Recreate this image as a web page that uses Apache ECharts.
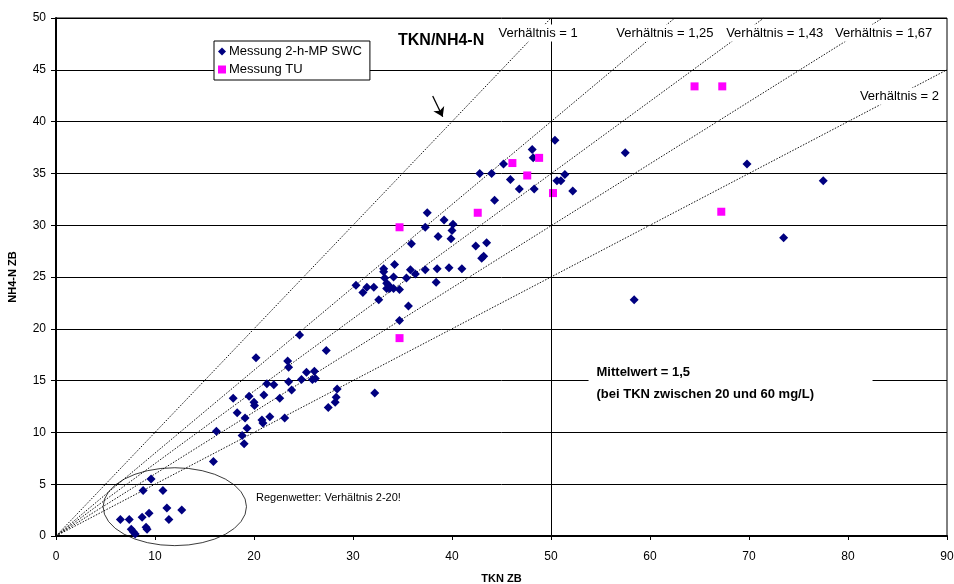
<!DOCTYPE html>
<html>
<head>
<meta charset="utf-8">
<script src="https://cdn.jsdelivr.net/npm/echarts@6/dist/echarts.min.js"></script>
<style>
html,body{margin:0;padding:0;background:#fff;}
#chart{width:954px;height:584px;}
</style>
</head>
<body>
<div id="chart"></div>
<script>
// ---- data ----
const seriesNames = ['Messung 2-h-MP SWC', 'Messung TU'];
const swcPoints = [
  [6.5,1.6],[7.4,1.6],[7.6,0.65],[7.8,0.4],[8.0,0.2],[8.7,1.8],[8.8,4.4],[9.1,0.85],[9.2,0.65],
  [9.4,2.2],[9.6,5.5],[10.8,4.4],[11.2,2.7],[11.4,1.6],[12.7,2.5],
  [15.9,7.2],[16.2,10.1],[17.9,13.3],[18.3,11.9],[18.8,9.7],[19.0,8.9],[19.1,11.4],[19.3,10.4],
  [19.5,13.5],[20.0,12.9],[20.05,12.6],[20.2,17.2],[20.8,11.2],[20.9,10.9],[21.0,13.6],[21.3,14.7],
  [21.6,11.5],[22.0,14.6],[22.6,13.3],[23.1,11.4],[23.4,16.9],[23.5,16.3],[23.5,14.9],[23.8,14.1],
  [24.6,19.4],[24.8,15.1],[25.3,15.8],[25.9,15.1],[26.1,15.9],[26.2,15.2],[27.3,17.9],[27.5,12.4],
  [28.2,12.9],[28.3,13.4],[28.4,14.2],[32.2,13.8],
  [30.3,24.2],[31.0,23.5],[31.4,24.0],[32.1,24.0],[32.6,22.8],[33.1,25.8],[33.1,25.5],[33.2,24.9],
  [33.4,24.4],[33.6,24.2],[33.4,23.9],[33.7,23.9],[34.1,23.9],[34.7,23.8],[34.1,25.0],[34.2,26.2],
  [34.7,20.8],[35.4,24.9],[35.6,22.2],[35.8,25.7],[35.9,28.2],[36.3,25.3],[37.3,25.7],[37.3,29.8],
  [37.5,31.2],[38.4,24.5],[38.5,25.8],[38.6,28.9],[39.2,30.5],[39.7,25.9],[39.9,28.7],[40.0,29.5],
  [40.1,30.1],[41.0,25.8],[42.4,28.0],[42.8,35.0],[43.0,26.8],[43.2,27.0],[43.5,28.3],[44.0,35.0],
  [44.3,32.4],[45.2,35.9],[45.9,34.4],[46.8,33.5],[48.1,37.3],[48.2,36.5],[48.3,33.5],[50.4,38.2],
  [50.6,34.3],[51.0,34.3],[51.4,34.9],[52.2,33.3],[57.5,37.0],[58.4,22.8],[69.8,35.9],[73.5,28.8],
  [77.5,34.3]
];
const tuPoints = [
  [34.7,29.8],[34.7,19.1],[42.6,31.2],[46.1,36.0],[47.6,34.8],[48.8,36.5],[50.2,33.1],
  [64.5,43.4],[67.3,43.4],[67.2,31.3]
];
// ratio reference lines TKN/NH4-N = r  (segments from origin to end point)
const ratioNames = ['Verhältnis = 1','Verhältnis = 1,25','Verhältnis = 1,43','Verhältnis = 1,67','Verhältnis = 2'];
const ratioLines = [
  [[0,0],[50,50]],
  [[0,0],[62.5,50]],
  [[0,0],[71.5,50]],
  [[0,0],[83.5,50]],
  [[0,0],[90,45]]
];
const xTicks = [0,10,20,30,40,50,60,70,80,90];
const yTicks = [0,5,10,15,20,25,30,35,40,45,50];
const titleText = 'TKN/NH4-N';
const xName = 'TKN ZB';
const yName = 'NH4-N ZB';
const noteLines = ['Mittelwert = 1,5', '(bei TKN zwischen 20 und 60 mg/L)'];
const rainText = 'Regenwetter: Verhältnis 2-20!';
// ellipse annotation (data units): centre, radii
const ellipseCenter = [12.0, 2.83];
const ellipseRadii = [7.24, 3.76];
const arrowFrom = [38.05, 42.47];
const arrowTo = [39.06, 40.47];

const FONT = '"Liberation Sans", Arial, sans-serif';
const chart = echarts.init(document.getElementById('chart'));

const series = [];
ratioLines.forEach((seg, i) => {
  series.push({
    name: ratioNames[i], type: 'line', data: seg, symbol: 'none', silent: true,
    lineStyle: { color: '#111', width: 1, type: [1.5, 1.5] }, z: 1, animation: false
  });
});
series.push({
  name: seriesNames[0], type: 'scatter', data: swcPoints, symbol: 'diamond', symbolSize: 9,
  itemStyle: { color: '#000080', opacity: 1 }, z: 3, animation: false,
  markLine: {
    silent: true, symbol: 'none', animation: false,
    lineStyle: { color: '#000', width: 1, type: 'solid' }, label: { show: false },
    data: [{ xAxis: 50 }]
  }
});
series.push({
  name: seriesNames[1], type: 'scatter', data: tuPoints, symbol: 'rect', symbolSize: 8,
  itemStyle: { color: '#FF00FF', opacity: 1 }, z: 4, animation: false,
  markLine: {
    silent: true, animation: false, label: { show: false },
    lineStyle: { color: '#000', width: 1.3, type: 'solid' },
    symbol: ['none', 'arrow'], symbolSize: 9,
    data: [[{ coord: arrowFrom }, { coord: arrowTo }]]
  }
});

const option = {
  animation: false,
  backgroundColor: '#fff',
  textStyle: { fontFamily: FONT },
  grid: { left: 56, right: 7, top: 18, bottom: 48, show: true, borderColor: '#000', borderWidth: 1,
          backgroundColor: 'transparent', containLabel: false, outerBoundsMode: 'none' },
  legend: {
    data: [{ name: seriesNames[0], icon: 'diamond' }, { name: seriesNames[1], icon: 'rect' }],
    orient: 'vertical', left: 214, top: 41, padding: [4, 8, 4, 4], itemGap: 5,
    itemWidth: 8, itemHeight: 8, backgroundColor: '#fff', borderColor: '#000', borderWidth: 1,
    textStyle: { fontFamily: FONT, fontSize: 13, color: '#000', padding: [0,0,0,-2] },
    selectedMode: false
  },
  xAxis: {
    type: 'value', min: 0, max: 90, interval: 10,
    name: xName, nameLocation: 'middle', nameGap: 37,
    nameTextStyle: { fontFamily: FONT, fontSize: 11, fontWeight: 'bold', color: '#000' },
    axisLine: { show: true, onZero: false, lineStyle: { color: '#000', width: 2 } },
    axisTick: { show: true, length: 4, lineStyle: { color: '#000', width: 1 } },
    axisLabel: { fontFamily: FONT, fontSize: 12, color: '#000', margin: 15 },
    splitLine: { show: false }
  },
  yAxis: {
    type: 'value', min: 0, max: 50, interval: 5,
    name: yName, nameLocation: 'middle', nameGap: 38, nameRotate: 90,
    nameTextStyle: { fontFamily: FONT, fontSize: 11, fontWeight: 'bold', color: '#000' },
    axisLine: { show: true, onZero: false, lineStyle: { color: '#000', width: 2 } },
    axisTick: { show: true, length: 5, lineStyle: { color: '#000', width: 1 } },
    axisLabel: { fontFamily: FONT, fontSize: 12, color: '#000', margin: 10 },
    splitLine: { show: true, lineStyle: { color: '#000', width: 1 } }
  },
  series: series
};
chart.setOption(option);

function px(pt) { return chart.convertToPixel({ gridIndex: 0 }, pt); }
function txt(text, x, y, font, align, bg, pad) {
  return {
    type: 'text', z: 100, zlevel: 0,
    style: {
      text: text, x: x, y: y, font: font, fill: '#000',
      align: align || 'center', textAlign: align || 'center',
      verticalAlign: 'middle', textVerticalAlign: 'middle',
      backgroundColor: bg || null, padding: pad || 0
    }
  };
}
const c = px(ellipseCenter);
const e1 = px([ellipseCenter[0] + ellipseRadii[0], ellipseCenter[1] + ellipseRadii[1]]);
const rx = e1[0] - c[0], ry = c[1] - e1[1];

// label anchors in data units
const ratioLabelPos = [[48.7,48.55],[61.5,48.55],[72.6,48.55],[83.6,48.55],[85.2,42.45]];
const graphics = [];
graphics.push({
  type: 'circle', x: c[0], y: c[1], scaleY: ry / rx, z: 50,
  shape: { cx: 0, cy: 0, r: rx }, style: { fill: 'none', stroke: '#000', lineWidth: 1 }
});
ratioLabelPos.forEach((p, i) => {
  const q = px(p);
  graphics.push(txt(ratioNames[i], q[0], q[1], '13px ' + FONT, 'center', '#fff', [2, 2, 2, 2]));
});
const t = px([38.9, 47.8]);
graphics.push(txt(titleText, t[0], t[1], 'bold 16px ' + FONT, 'center'));
const n1 = px([54.6, 15.0]);
graphics.push({
  type: 'rect', z: 90, shape: { x: n1[0] - 8, y: n1[1] - 16, width: 284, height: 42 },
  style: { fill: '#fff' }
});
graphics.push(txt(noteLines[0], n1[0], n1[1] - 8, 'bold 13px ' + FONT, 'left'));
graphics.push(txt(noteLines[1], n1[0], n1[1] + 14, 'bold 13px ' + FONT, 'left'));
const r1 = px([20.2, 3.65]);
graphics.push(txt(rainText, r1[0], r1[1], '11px ' + FONT, 'left'));
chart.setOption({ graphic: graphics });
</script>
</body>
</html>
